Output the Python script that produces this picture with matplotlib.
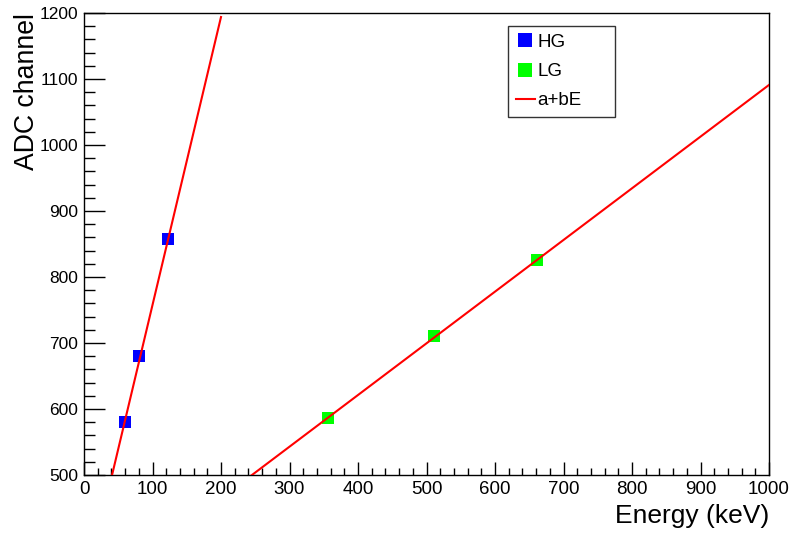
import matplotlib.pyplot as plt
import numpy as np
from matplotlib.ticker import MultipleLocator

plt.rcParams['font.family'] = ['Liberation Sans', 'DejaVu Sans']

# calibration points
hg_energy = [59.5, 81.0, 122.0]
hg_adc = [581, 680, 857]
lg_energy = [356.0, 511.0, 662.0]
lg_adc = [586, 710, 826]

# fit results a + b*E
hg_fit = [321.3, 4.363]
lg_fit = [308.0, 0.783]
hg_range = [0, 200]
lg_range = [0, 1000]

fig = plt.figure(figsize=(7.92, 5.33), dpi=100)
ax = fig.add_axes([84/792, 58/533, 685/792, 462/533])

e = np.linspace(hg_range[0], hg_range[1], 200)
ax.plot(e, hg_fit[0] + hg_fit[1]*e, color='#ff0000', lw=1.5, zorder=3)
e = np.linspace(lg_range[0], lg_range[1], 200)
ax.plot(e, lg_fit[0] + lg_fit[1]*e, color='#ff0000', lw=1.5, zorder=3, label='a+bE')

ax.plot(hg_energy, hg_adc, 's', color='#0000ff', ms=8.5, mew=0, zorder=2, label='HG')
ax.plot(lg_energy, lg_adc, 's', color='#00ff00', ms=8.5, mew=0, zorder=2, label='LG')

ax.set_xlim(0, 1000)
ax.set_ylim(500, 1200)
ax.xaxis.set_major_locator(MultipleLocator(100))
ax.xaxis.set_minor_locator(MultipleLocator(20))
ax.yaxis.set_major_locator(MultipleLocator(100))
ax.yaxis.set_minor_locator(MultipleLocator(20))
ax.tick_params(axis='both', which='both', direction='in', width=1, colors='black')
ax.tick_params(axis='x', which='major', length=9.5, pad=4, labelsize=13.5)
ax.tick_params(axis='x', which='minor', length=5)
ax.tick_params(axis='y', which='major', length=15, pad=4, labelsize=12.5)
ax.tick_params(axis='y', which='minor', length=8)
for s in ax.spines.values():
    s.set_linewidth(1)

ax.set_xlabel('Energy (keV)', fontsize=19, loc='right', labelpad=5)
ax.set_ylabel('ADC channel', fontsize=19.2, loc='top', labelpad=0)

h, l = ax.get_legend_handles_labels()
order = [l.index('HG'), l.index('LG'), l.index('a+bE')]
leg = ax.legend([h[i] for i in order], [l[i] for i in order], loc='upper left',
                bbox_to_anchor=(508/792, 1 - 26/533, 107/792, 0), bbox_transform=fig.transFigure,
                mode='expand', borderaxespad=0, fontsize=13.5, frameon=True, fancybox=False,
                edgecolor='black', handlelength=1.0, handletextpad=0.15,
                labelspacing=0.64, borderpad=0.42, markerscale=1.25)
leg.get_frame().set_linewidth(1)

plt.savefig('out.png', dpi=100)
